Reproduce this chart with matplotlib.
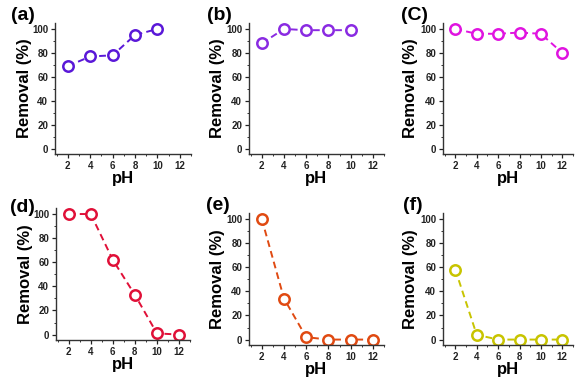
import matplotlib
matplotlib.use("Agg")
import matplotlib.pyplot as plt
from matplotlib.ticker import MultipleLocator

plt.rcParams['font.family'] = ['Liberation Sans', 'DejaVu Sans']

ph_a = [2, 4, 6, 8, 10]
rem_a = [69, 77, 78, 95, 100]
ph_b = [2, 4, 6, 8, 10]
rem_b = [88, 100, 99, 99, 99]
ph_c = [2, 4, 6, 8, 10, 12]
rem_c = [100, 96, 96, 97, 96, 80]
ph_d = [2, 4, 6, 8, 10, 12]
rem_d = [100, 100, 62, 33, 1, 0]
ph_e = [2, 4, 6, 8, 10, 12]
rem_e = [100, 34, 2, 0, 0, 0]
ph_f = [2, 4, 6, 8, 10, 12]
rem_f = [58, 4, 0, 0, 0, 0]

labels = ['(a)', '(b)', '(C)', '(d)', '(e)', '(f)']
colors = ['#5a18d8', '#8a2be2', '#e014e0', '#e01038', '#e04a12', '#c8c400']
xs = [ph_a, ph_b, ph_c, ph_d, ph_e, ph_f]
ys = [rem_a, rem_b, rem_c, rem_d, rem_e, rem_f]
xticks = [2, 4, 6, 8, 10, 12]
yticks = [0, 20, 40, 60, 80, 100]

W, H = 586, 383
fig = plt.figure(figsize=(W / 100, H / 100), dpi=100)

# axes boxes in pixels: left, right, top, bottom
boxes = [
    (55, 191, 23, 154),
    (249, 384, 23, 154),
    (443, 573, 23, 154),
    (56, 190, 208, 340),
    (249, 384, 213, 345),
    (443, 573, 213, 345),
]
label_pos = [(23, 15), (219, 15), (414, 15), (22, 207), (218, 205), (413, 205)]
ylab_x = [32, 225, 418, 33, 225, 418]

for i in range(6):
    l, r, t, b = boxes[i]
    ax = fig.add_axes([l / W, 1 - b / H, (r - l) / W, (b - t) / H])
    ax.plot(xs[i], ys[i], linestyle=(0, (3.5, 2.2)), color=colors[i], lw=1.4,
            marker='o', markersize=7.5, markerfacecolor='white',
            markeredgecolor=colors[i], markeredgewidth=1.8)
    ax.set_xlim(0.85, 13.0)
    ax.set_ylim(-4.5, 105)
    ax.set_xticks(xticks)
    ax.set_yticks(yticks)
    ax.xaxis.set_minor_locator(MultipleLocator(1))
    ax.yaxis.set_minor_locator(MultipleLocator(10))
    for s in ['top', 'right']:
        ax.spines[s].set_visible(False)
    for s in ['left', 'bottom']:
        ax.spines[s].set_linewidth(1.0)
        ax.spines[s].set_color('#333333')
    ax.tick_params(which='major', length=3, width=0.9, pad=2, labelsize=7, colors='#222222')
    ax.tick_params(which='minor', length=1.5, width=0.7, colors='#333333')
    for lab in ax.get_xticklabels() + ax.get_yticklabels():
        lab.set_fontweight('bold')
    ax.set_xlabel('pH', fontsize=12, fontweight='bold', labelpad=0)
    ax.set_ylabel('Removal (%)', fontsize=12, fontweight='bold')
    ax.yaxis.set_label_coords((ylab_x[i] - l) / (r - l), 0.5)
    ax.xaxis.set_label_coords(0.5, -0.13)
    lx, ly = label_pos[i]
    fig.text(lx / W, 1 - ly / H, labels[i], fontsize=14, fontweight='bold',
             ha='center', va='center')

fig.savefig('out.png', dpi=100)
